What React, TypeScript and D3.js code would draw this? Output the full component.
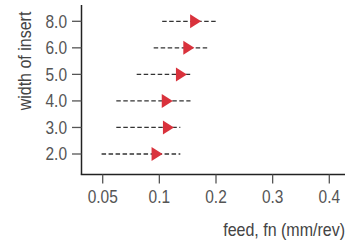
import React from "react";
import * as d3 from "d3";

const insertWidths = ["8.0", "6.0", "5.0", "4.0", "3.0", "2.0"];
const feedMean = [0.164, 0.152, 0.139, 0.114, 0.116, 0.098];
const feedMin = [0.105, 0.095, 0.08, 0.062, 0.062, 0.049];
const feedMax = [0.2, 0.188, 0.157, 0.155, 0.137, 0.137];
const xTicks = [0.05, 0.1, 0.2, 0.3, 0.4];
const xTickLabels = ["0.05", "0.1", "0.2", "0.3", "0.4"];

const W = 360;
const H = 240;
const FONT = "'Liberation Sans', Arial, sans-serif";
const TICK_SX = 0.86;
const TITLE_SX = 0.89;

export default function App() {
  const xPoint = d3.scalePoint<string>().domain(xTickLabels).range([102.7, 329.3]);
  const x = d3
    .scaleLinear()
    .domain(xTicks)
    .range(xTickLabels.map((l) => xPoint(l) as number));
  const y = d3.scalePoint<string>().domain(insertWidths).range([21.3, 154]);

  const axisX0 = 81.5;
  const axisY = 174.5;
  const red = "#d9323c";

  return (
    <svg
      width={W}
      height={H}
      style={{ position: "absolute", left: 0, top: 0, background: "#fff" }}
      fontFamily={FONT}
    >
      {/* axes */}
      <line x1={axisX0} x2={axisX0} y1={5} y2={axisY} stroke="#222" strokeWidth={1.5} />
      <line x1={axisX0 - 0.75} x2={345} y1={axisY} y2={axisY} stroke="#222" strokeWidth={1.5} />
      {/* y ticks */}
      {insertWidths.map((w) => (
        <g key={w} transform={`translate(0,${y(w)})`}>
          <line x1={72} x2={axisX0} stroke="#555" strokeWidth={1.3} />
          <g transform={`translate(67,0) scale(${TICK_SX},1)`}>
            <text dy="0.36em" textAnchor="end" fontSize={18} fill="#555">
              {w}
            </text>
          </g>
        </g>
      ))}
      {/* x ticks */}
      {xTicks.map((t, i) => (
        <g key={t} transform={`translate(${x(t)},0)`}>
          <line y1={axisY} y2={axisY + 9} stroke="#555" strokeWidth={1.3} />
          <g transform={`translate(0,203.3) scale(${TICK_SX},1)`}>
            <text textAnchor="middle" fontSize={18} fill="#555">
              {xTickLabels[i]}
            </text>
          </g>
        </g>
      ))}
      {/* axis titles */}
      <g transform={`translate(345,236) scale(${TITLE_SX},1)`}>
        <text textAnchor="end" fontSize={18} fill="#444">
          feed, fn (mm/rev)
        </text>
      </g>
      <g transform={`translate(31,61) rotate(-90) scale(${TITLE_SX},1)`}>
        <text textAnchor="middle" fontSize={18} fill="#444">
          width of insert
        </text>
      </g>
      {/* ranges and markers */}
      {insertWidths.map((w, i) => {
        const cy = y(w) as number;
        const cx = x(feedMean[i]);
        return (
          <g key={w}>
            <line
              x1={x(feedMin[i])}
              x2={x(feedMax[i])}
              y1={cy}
              y2={cy}
              stroke="#333"
              strokeWidth={1.3}
              strokeDasharray="4.5,2.5"
            />
            <path
              d={`M${cx + 5.5},${cy} L${cx - 5.5},${cy - 7} L${cx - 5.5},${cy + 7} Z`}
              fill={red}
            />
          </g>
        );
      })}
    </svg>
  );
}
